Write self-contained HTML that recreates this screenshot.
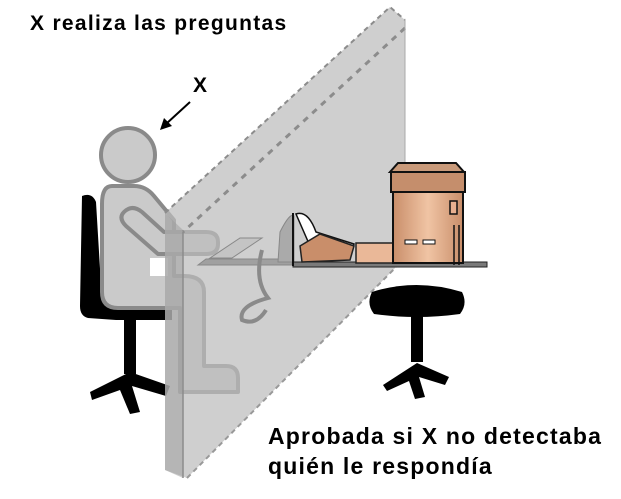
<!DOCTYPE html>
<html><head><meta charset="utf-8"><style>
html,body{margin:0;padding:0;background:#fff;width:621px;height:499px;overflow:hidden}
svg{display:block}
text{font-family:"Liberation Sans",sans-serif;font-weight:bold;fill:#000}
</style></head><body>
<svg width="621" height="499" viewBox="0 0 621 499" xmlns="http://www.w3.org/2000/svg">
<defs>
<linearGradient id="cg" x1="0" x2="1"><stop offset="0" stop-color="#c98e6a"/><stop offset="0.5" stop-color="#f0c4a4"/><stop offset="1" stop-color="#c98e6a"/></linearGradient>
</defs>
<!-- chair (black) -->
<path d="M82,196 q10,-4 14,6 l6,100 h70 v18 h-56 l-28,-2 q-8,-2 -8,-12 z" fill="#000"/>
<rect x="124" y="318" width="12" height="56" fill="#000"/>
<path d="M90,392 l40,-20 l40,14 l-4,10 l-34,-10 l8,26 l-10,2 l-10,-24 l-28,10 z" fill="#000"/>
<!-- person (gray) -->
<g fill="#cacaca" stroke="#8a8a8a" stroke-width="4" stroke-linejoin="round">
<circle cx="128" cy="155" r="27"/>
<path d="M112,186 h22 q12,0 20,10 l20,24 v56 h10 q20,0 20,16 v74 h22 q12,0 12,12 v14 h-58 v-84 h-62 q-16,0 -16,-16 v-88 q0,-18 10,-18 z"/>
<path d="M124,212 q8,-8 18,0 l22,20 h42 q12,0 12,10 v2 q0,10 -12,10 h-48 l-32,-28 q-8,-8 -2,-14 z"/>
</g>
<rect x="150" y="258" width="18" height="18" fill="#fff"/>
<!-- wall -->
<polygon points="165,213 390,7 405,20 405,258 187,478 165,470" fill="#bdbdbd" fill-opacity="0.72"/>
<polygon points="165,213 183,230 183,478 165,470" fill="#9c9c9c" fill-opacity="0.5"/>
<path d="M165,213 L390,7 L405,20" fill="none" stroke="#8c8c8c" stroke-width="2" stroke-dasharray="5,4"/>
<path d="M405,28 L183,232" fill="none" stroke="#8c8c8c" stroke-width="3" stroke-dasharray="6,6"/>
<path d="M187,478 L405,258" fill="none" stroke="#999" stroke-width="2" stroke-dasharray="5,4"/>
<line x1="183" y1="232" x2="183" y2="478" stroke="#8c8c8c" stroke-width="1.5"/>
<line x1="405" y1="20" x2="405" y2="258" stroke="#aaa" stroke-width="1"/>
<!-- desk left (behind wall) -->
<path d="M198,265 l8,-6 h86 v6 z" fill="#a0a0a0" stroke="#888"/>
<path d="M210,258 l30,-20 h22 l-30,20 z" fill="#c4c4c4" stroke="#888"/>
<path d="M262,250 q-8,30 6,48 q-30,8 -26,22 q14,6 24,-10" fill="none" stroke="#8a8a8a" stroke-width="4"/>
<path d="M280,232 q10,-20 14,-16 v46 h-16 z" fill="#aaa" stroke="#888"/>
<!-- desk right -->
<rect x="293" y="262" width="194" height="5" fill="#7a7a7a" stroke="#222" stroke-width="1"/>
<line x1="293" y1="213" x2="293" y2="266" stroke="#111" stroke-width="2"/>
<!-- person inside -->
<path d="M296,214 q12,-4 20,18 l38,12 l-4,12 l-40,-10 z" fill="#fff" stroke="#111" stroke-width="1.5"/>
<path d="M300,246 l20,-12 l34,12 l-4,14 l-48,2 z" fill="#c98e6a" stroke="#222" stroke-width="1.5"/>
<rect x="356" y="243" width="40" height="20" fill="#eab898" stroke="#222" stroke-width="1.5"/>
<!-- computer -->
<path d="M398,163 h58 l8,9 h-74 z" fill="#c99a7a" stroke="#111" stroke-width="2"/>
<rect x="391" y="172" width="74" height="20" fill="#c58e6c" stroke="#111" stroke-width="2"/>
<rect x="393" y="192" width="70" height="71" fill="url(#cg)" stroke="#111" stroke-width="2"/>
<rect x="450" y="201" width="7" height="13" fill="#e8b090" stroke="#111" stroke-width="1.5"/>
<rect x="405" y="240" width="12" height="4" fill="#fff" stroke="#111"/>
<rect x="423" y="240" width="12" height="4" fill="#fff" stroke="#111"/>
<path d="M454,225 v40 M459,225 v40" stroke="#111" stroke-width="1.5"/>
<!-- stool -->
<path d="M372,292 q44,-14 90,0 q6,12 -2,22 q-44,6 -86,0 q-8,-10 -2,-22 z" fill="#000"/>
<rect x="411" y="312" width="12" height="50" fill="#000"/>
<path d="M383,385 l34,-22 l32,14 l-4,8 l-26,-8 l6,20 l-10,2 l-6,-18 l-22,10 z" fill="#000"/>
<!-- texts -->
<text x="30" y="30" font-size="21" letter-spacing="1.3">X realiza las preguntas</text>
<text x="193" y="92" font-size="21">X</text>
<line x1="190" y1="102" x2="166" y2="124" stroke="#000" stroke-width="2"/>
<path d="M160,130 l4,-12 l8,8 z" fill="#000"/>
<text x="268" y="444" font-size="23" letter-spacing="1.2">Aprobada si X no detectaba</text>
<text x="268" y="474" font-size="23" letter-spacing="1.2">quién le respondía</text>
</svg>
</body></html>
